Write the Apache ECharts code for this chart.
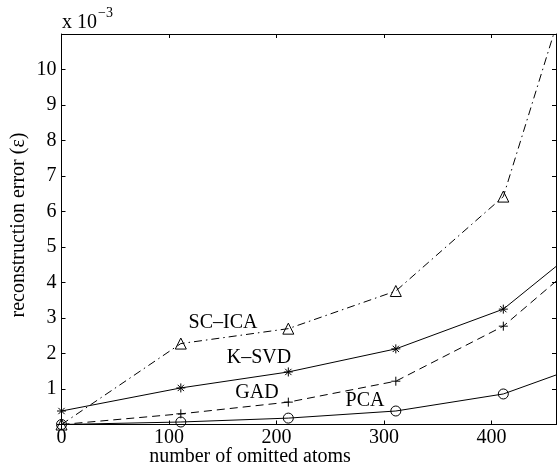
<!DOCTYPE html>
<html>
<head>
<meta charset="utf-8">
<script src="https://cdn.jsdelivr.net/npm/echarts@6/dist/echarts.min.js"></script>
<style>html,body{margin:0;padding:0;background:#fff;}#c{width:559px;height:467px;}</style>
</head>
<body>
<div id="c"></div>
<script>
const atoms = [0, 111, 211, 311, 411, 511];
const scica = [0.0, 2.28, 2.70, 3.76, 6.42, 16.2];
const ksvd = [0.38, 1.03, 1.48, 2.13, 3.25, 5.7];
const gad = [0.0, 0.30, 0.63, 1.22, 2.77, 5.35];
const pca = [0.0, 0.07, 0.18, 0.38, 0.86, 1.95];
const xTicks = [0, 100, 200, 300, 400];
const yTicks = [1, 2, 3, 4, 5, 6, 7, 8, 9, 10];

const F = 'Liberation Serif';
const pair = arr => atoms.map((x, i) => [x, arr[i]]);
const asterisk = 'path://M5,0L5,10M0,5L10,5M1.5,1.5L8.5,8.5M1.5,8.5L8.5,1.5';
const plus = 'path://M5,0L5,10M0,5L10,5';

function mkSeries(name, data, symbol, size, lineType) {
  return {
    name, type: 'line', data: pair(data), symbol, symbolSize: size,
    clip: true, animation: false,
    lineStyle: { color: '#000', width: 1, type: lineType },
    itemStyle: { color: 'none', borderColor: '#000', borderWidth: 1 }
  };
}

const baseX = {
  type: 'value', min: 0, max: 460, interval: 100,
  axisLine: { onZero: false, lineStyle: { color: '#000', width: 1 } },
  axisTick: { inside: true, length: 4, lineStyle: { color: '#000' } },
  splitLine: { show: false }
};
const baseY = {
  type: 'value', min: 0, max: 11, interval: 1,
  axisLine: { onZero: false, lineStyle: { color: '#000', width: 1 } },
  axisTick: { inside: true, length: 4, lineStyle: { color: '#000' } },
  splitLine: { show: false }
};

const chart = echarts.init(document.getElementById('c'));
chart.setOption({
  animation: false,
  grid: { left: 61.5, top: 34, right: 1.5, bottom: 42.5 },
  xAxis: [
    Object.assign({}, baseX, { position: 'bottom',
      axisLabel: { color: '#000', fontFamily: F, fontSize: 20, margin: 3,
        formatter: v => xTicks.includes(v) ? String(v) : '' } }),
    Object.assign({}, baseX, { position: 'top', axisLabel: { show: false } })
  ],
  yAxis: [
    Object.assign({}, baseY, { position: 'left',
      axisLabel: { color: '#000', fontFamily: F, fontSize: 20, margin: 5,
        formatter: v => yTicks.includes(v) ? String(v) : '' } }),
    Object.assign({}, baseY, { position: 'right', axisLabel: { show: false } })
  ],
  series: [
    mkSeries('PCA', pca, 'circle', 10, 'solid'),
    mkSeries('GAD', gad, plus, 9, [8, 5]),
    mkSeries('K–SVD', ksvd, asterisk, 9, 'solid'),
    mkSeries('SC–ICA', scica, 'triangle', 11, [8, 4, 1.5, 4])
  ],
  graphic: [
    { type: 'text', x: 223, y: 323, style: { text: 'SC–ICA', font: '20px "Liberation Serif"', fill: '#000', textAlign: 'center', textVerticalAlign: 'middle' } },
    { type: 'text', x: 259, y: 358, style: { text: 'K–SVD', font: '20px "Liberation Serif"', fill: '#000', textAlign: 'center', textVerticalAlign: 'middle' } },
    { type: 'text', x: 257, y: 393, style: { text: 'GAD', font: '20px "Liberation Serif"', fill: '#000', textAlign: 'center', textVerticalAlign: 'middle' } },
    { type: 'text', x: 365, y: 401, style: { text: 'PCA', font: '20px "Liberation Serif"', fill: '#000', textAlign: 'center', textVerticalAlign: 'middle' } },
    { type: 'text', x: 250, y: 457, style: { text: 'number of omitted atoms', font: '20px "Liberation Serif"', fill: '#000', textAlign: 'center', textVerticalAlign: 'middle' } },
    { type: 'text', x: 19, y: 225, rotation: Math.PI / 2, style: { text: 'reconstruction error (ε)', font: '20px "Liberation Serif"', fill: '#000', textAlign: 'center', textVerticalAlign: 'middle' } },
    { type: 'text', x: 62, y: 23, style: { text: 'x 10', font: '20px "Liberation Serif"', fill: '#000', textAlign: 'left', textVerticalAlign: 'middle' } },
    { type: 'text', x: 98, y: 13, style: { text: '−3', font: '14px "Liberation Serif"', fill: '#000', textAlign: 'left', textVerticalAlign: 'middle' } }
  ]
});
</script>
</body>
</html>
